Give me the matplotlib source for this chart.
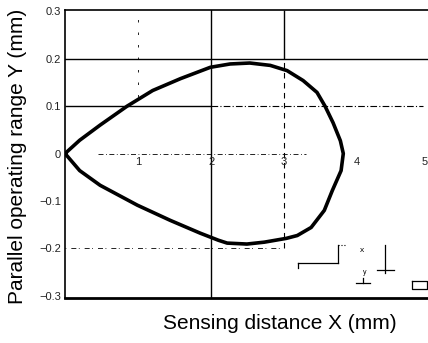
import numpy as np
import matplotlib.pyplot as plt

plt.rcParams['font.family'] = ['Liberation Sans', 'DejaVu Sans']

# operating range outline (mm)
upper_x = [0, 0.2, 0.48, 0.85, 1.2, 1.58, 1.99, 2.26, 2.53, 2.81, 3.04, 3.26, 3.45, 3.56, 3.67, 3.77, 3.81]
upper_y = [0, 0.028, 0.060, 0.100, 0.133, 0.158, 0.182, 0.189, 0.191, 0.186, 0.175, 0.154, 0.129, 0.100, 0.065, 0.027, 0]
lower_x = [3.81, 3.78, 3.66, 3.55, 3.37, 3.18, 3.03, 2.73, 2.49, 2.22, 2.1, 1.85, 1.44, 0.99, 0.48, 0.2, 0]
lower_y = [0, -0.036, -0.078, -0.120, -0.156, -0.173, -0.179, -0.187, -0.191, -0.189, -0.183, -0.168, -0.141, -0.109, -0.067, -0.036, 0]

x_ticks = [1, 2, 3, 4, 5]
y_ticks = [0.3, 0.2, 0.1, 0, -0.1, -0.2, -0.3]
y_labels = ['0.3', '0.2', '0.1', '0', '\u22120.1', '\u22120.2', '\u22120.3']

fig = plt.figure(figsize=(4.28, 3.43), dpi=100)
ax = fig.add_axes([0.152, 0.131, 0.848, 0.840])
ax.set_xlim(0, 4.97)
ax.set_ylim(-0.305, 0.303)

# grid, the way the scanned drawing shows it
ax.axhline(0.2, color='black', lw=1.0)
ax.axvline(2, color='black', lw=1.0)
ax.hlines(0.1, 0, 2.0, color='black', lw=1.0)
ax.hlines(0.1, 2.0, 4.9, color='black', lw=0.8, linestyles=(0, (6, 2, 1, 2)))
ax.vlines(3, 0.2, 0.303, color='black', lw=1.0)
ax.vlines(3, -0.2, 0.2, color='black', lw=0.8, linestyles=(0, (5, 4)))
ax.hlines(0, 0.45, 3.3, color='black', lw=0.6, linestyles=(0, (6, 3, 1, 3)))
ax.hlines(-0.2, 0.0, 3.0, color='black', lw=0.6, linestyles=(0, (1, 6, 6, 3)))
ax.vlines(1, 0.12, 0.3, color='black', lw=0.6, linestyles=(0, (3, 12)))

# the outline
ax.plot(upper_x + lower_x[1:], upper_y + lower_y[1:], color='black', lw=2.6,
        solid_capstyle='round', solid_joinstyle='round')

# small sensor sketch in the lower right corner
sk = dict(color='black', lw=0.9, clip_on=False)
ax.plot([3.74, 3.74], [-0.194, -0.232], **sk)
ax.plot([3.19, 3.74], [-0.232, -0.232], **sk)
ax.plot([3.19, 3.19], [-0.232, -0.242], **sk)
ax.plot([3.74, 3.85], [-0.194, -0.194], color='black', lw=0.8, ls=':')
ax.plot([4.38, 4.38], [-0.194, -0.253], **sk)
ax.plot([4.27, 4.51], [-0.246, -0.246], **sk)
ax.plot([4.08, 4.08], [-0.262, -0.274], **sk)
ax.plot([3.99, 4.18], [-0.274, -0.274], **sk)
ax.plot([4.75, 4.96, 4.96, 4.75, 4.75], [-0.270, -0.270, -0.286, -0.286, -0.270], **sk)
ax.text(4.07, -0.204, 'x', fontsize=6, ha='center', va='center')
ax.text(4.10, -0.250, 'y', fontsize=5, ha='center', va='center')

# x tick labels sit inside the frame, under the y=0 line
for xt in x_ticks:
    ax.text(min(xt, 4.92), -0.008, str(xt), fontsize=8, ha='center', va='top', color='#222222')
ax.set_xticks([])
ax.set_yticks(y_ticks)
ax.set_yticklabels(y_labels, fontsize=8, color='#222222')
ax.tick_params(axis='y', length=0, pad=3)

ax.spines['right'].set_visible(False)
ax.spines['left'].set_linewidth(1.2)
ax.spines['top'].set_linewidth(1.2)
ax.spines['bottom'].set_linewidth(2.0)

fig.text(0.042, 0.545, 'Parallel operating range Y (mm)', rotation=90, fontsize=15,
         ha='center', va='center')
fig.text(0.654, 0.058, 'Sensing distance X (mm)', fontsize=15, ha='center', va='center')

fig.savefig('out.png', dpi=100)
